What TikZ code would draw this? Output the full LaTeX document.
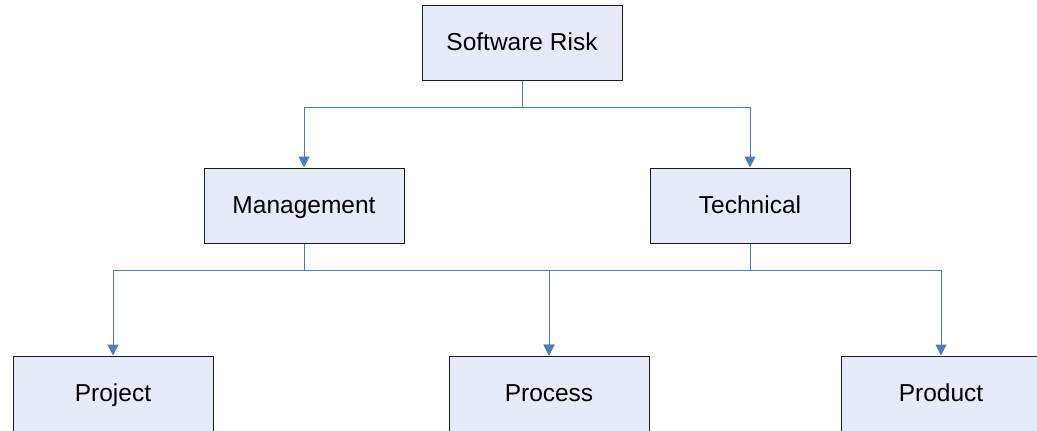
\documentclass[tikz,border=0pt]{standalone}
\usepackage{fontspec}
\setmainfont{Liberation Sans}
\usetikzlibrary{arrows.meta}
\definecolor{boxfill}{HTML}{E6ECF7}
\definecolor{linkblue}{HTML}{4A7EBB}
\definecolor{boxline}{HTML}{1A1A1A}
\begin{document}
\begin{tikzpicture}[x=1pt,y=-1pt,
  box/.style={draw=boxline, fill=boxfill, line width=1pt, minimum width=200pt, minimum height=75pt, inner sep=0pt, text height=15.5pt, text depth=0pt, font=\fontsize{24.5}{27}\selectfont},
  link/.style={draw=linkblue, line width=1pt},
  arr/.style={link, -{Triangle[length=11pt,width=11pt]}}]
\useasboundingbox (0,0) rectangle (1037,431);
\clip (0,0) rectangle (1037,431);
\fill[white] (0,0) rectangle (1037,431);
\node[box] (sr) at (522,42.5) {Software Risk};
\node[box] (mg) at (304,205.5) {Management};
\node[box] (te) at (750,205.5) {Technical};
\node[box] (pj) at (113,393.5) {Project};
\node[box] (pc) at (549,393.5) {Process};
\node[box] (pd) at (941,393.5) {Product};
\coordinate (j1) at (522,107);
\coordinate (j2) at (304,270);
\coordinate (j3) at (750,270);
\draw[link] (sr.south) -- (j1);
\draw[arr] (j1) -| (mg.north);
\draw[arr] (j1) -| (te.north);
\draw[link] (mg.south) -- (j2);
\draw[link] (te.south) -- (j3);
\draw[arr] (j2) -| (pj.north);
\draw[arr] (j2) -| (pc.north);
\draw[arr] (j3) -| (pc.north);
\draw[arr] (j3) -| (pd.north);
\end{tikzpicture}
\end{document}
